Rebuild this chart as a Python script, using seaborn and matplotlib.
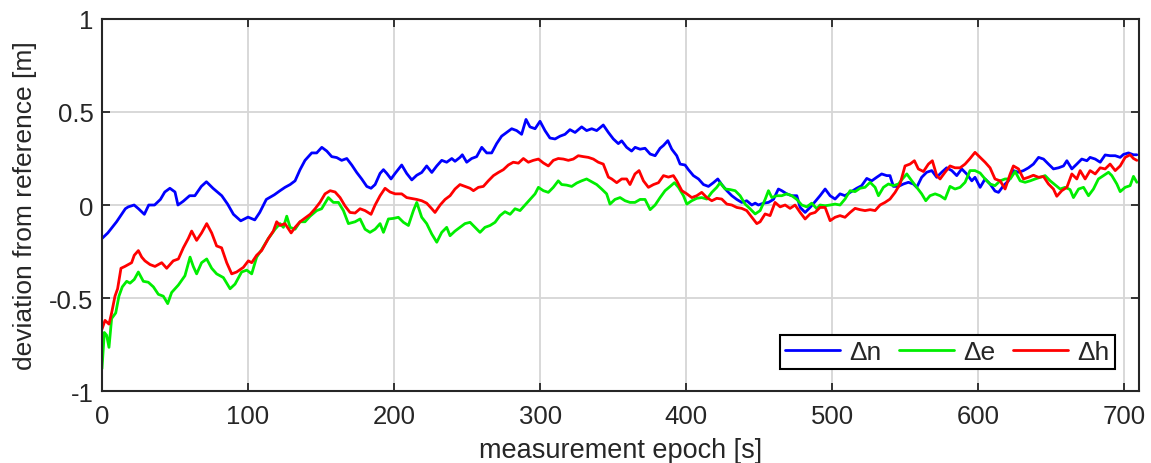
import matplotlib
matplotlib.use("Agg")
import matplotlib.pyplot as plt
import seaborn as sns

# values (epoch in s, deviation in m)
t_n = [0, 4, 10, 16, 18, 22, 25, 29, 32, 36, 40, 43, 46.5, 50, 52, 55.6, 60, 63.6, 68, 71.5,
       76, 82, 86, 90, 95, 100, 104.6, 108, 112.5, 118, 121.9, 125.3, 128.8, 132.2, 135.6, 139,
       143.6, 147, 150.5, 153.9, 157.3, 160.7, 164.1, 167.6, 171, 174.4, 177.8, 181.3, 184.2,
       187, 190.4, 192.7, 195, 197.9, 200.7, 205.2, 208.6, 212.1, 215.5, 218.9, 222.3, 225.8,
       229.2, 232.6, 236, 239.5, 241.7, 245.1, 246.7, 249.7, 253.1, 256.5, 260, 263.4, 266.8,
       270.2, 273.6, 277.1, 280.5, 283.9, 287.3, 290.3, 293, 296.5, 299.9, 303.3, 306.7, 310.2,
       313.6, 317, 320.4, 323.9, 328.4, 331.8, 335.3, 338.7, 343.2, 346.7, 350.1, 353.5, 355.8,
       359.2, 362.6, 365, 368.4, 371.8, 375.3, 378.7, 382.1, 384.4, 387.4, 390.1, 393.5, 395.8,
       399.2, 401.5, 404.9, 408.4, 411.8, 415.2, 418.6, 421.6, 424.3, 427.8, 431.2, 434.6, 438,
       441.4, 444.9, 447.2, 449.4, 452.9, 456.3, 459.7, 463.1, 465.4, 468.8, 472.3, 475.7, 478,
       481.4, 484.8, 488.2, 491.6, 495.1, 498.5, 501.9, 505.3, 508.7, 512.2, 516.7, 520.1, 523.6,
       527, 530.4, 533.8, 537.3, 539.5, 541.8, 545.3, 548.7, 552.1, 555.5, 557.8, 561.2, 564.6,
       568.1, 571.5, 574.9, 578.3, 581.8, 585.2, 588.6, 592, 595.5, 597.7, 601.2, 604.6, 608,
       611.4, 613.8, 617.2, 620.6, 624, 627.5, 630.9, 634.3, 637.7, 641.2, 644.6, 648, 651.4,
       654.9, 658.3, 660.6, 664, 667.4, 670.8, 674.3, 676.5, 680, 683.4, 686.8, 690.2, 693.7,
       697.1, 699.4, 702.8, 706.2, 708.5]
dn = [-0.18, -0.15, -0.09, -0.02, -0.01, 0.0, -0.02, -0.05, 0.0, 0.0, 0.03, 0.07, 0.09, 0.07, 0.0,
      0.02, 0.05, 0.05, 0.10, 0.125, 0.09, 0.05, 0.005, -0.05, -0.085, -0.065, -0.08, -0.04, 0.03,
      0.055, 0.077, 0.095, 0.11, 0.13, 0.19, 0.24, 0.28, 0.28, 0.31, 0.29, 0.26, 0.255, 0.24, 0.25,
      0.215, 0.175, 0.14, 0.10, 0.09, 0.11, 0.17, 0.19, 0.17, 0.14, 0.17, 0.215, 0.17, 0.135, 0.16,
      0.175, 0.21, 0.175, 0.21, 0.24, 0.23, 0.25, 0.235, 0.256, 0.27, 0.23, 0.25, 0.26, 0.31, 0.28,
      0.28, 0.33, 0.37, 0.39, 0.41, 0.40, 0.38, 0.46, 0.42, 0.41, 0.45, 0.40, 0.36, 0.355, 0.37,
      0.38, 0.405, 0.39, 0.42, 0.40, 0.41, 0.40, 0.43, 0.39, 0.355, 0.33, 0.345, 0.31, 0.29, 0.31,
      0.30, 0.305, 0.274, 0.265, 0.305, 0.32, 0.346, 0.30, 0.265, 0.22, 0.215, 0.19, 0.158, 0.14,
      0.11, 0.10, 0.12, 0.14, 0.11, 0.077, 0.05, 0.03, 0.014, 0.023, 0.0, 0.01, 0.0, 0.01, 0.014,
      0.03, 0.086, 0.077, 0.06, 0.05, 0.05, -0.013, -0.04, -0.013, 0.018, 0.05, 0.086, 0.05, 0.032,
      0.06, 0.05, 0.068, 0.09, 0.104, 0.143, 0.13, 0.149, 0.167, 0.158, 0.158, 0.10, 0.10, 0.113,
      0.122, 0.113, 0.095, 0.149, 0.176, 0.185, 0.149, 0.176, 0.20, 0.185, 0.158, 0.194, 0.167,
      0.13, 0.149, 0.095, 0.14, 0.113, 0.075, 0.068, 0.104, 0.13, 0.185, 0.176, 0.185, 0.20, 0.22,
      0.256, 0.247, 0.22, 0.194, 0.20, 0.21, 0.238, 0.194, 0.22, 0.247, 0.238, 0.256, 0.247, 0.23,
      0.269, 0.265, 0.265, 0.256, 0.272, 0.28, 0.27, 0.27]

t_e = [0, 1.6, 3.2, 4.8, 6.6, 9.4, 11.6, 13.9, 16.9, 19.2, 22.1, 24.9, 28.3, 31.7, 35.2, 38.6, 42,
       45, 47.7, 52.3, 56.8, 60.3, 62.5, 64.8, 68.2, 71.7, 75.1, 78.5, 83.1, 87.7, 91.1, 95.6,
       99.1, 102.5, 105.9, 109.3, 113.9, 118.5, 121.9, 124.2, 126.5, 128.8, 132.2, 135.6, 139,
       142.5, 147, 150.4, 155, 158.4, 161.9, 165.3, 168.7, 173.3, 176.7, 180.1, 183.5, 187,
       190.4, 192.7, 196.1, 199.5, 202.9, 206.4, 209.8, 213.2, 215.5, 218.9, 222.3, 225.8,
       229.2, 232.6, 236, 238.3, 241.7, 245.1, 248.5, 252, 255.4, 258.8, 262.2, 265.7, 269.1,
       272.5, 275.9, 279.4, 282.8, 286.2, 289.6, 293, 296.5, 298.8, 302.2, 305.6, 309, 312.4,
       314.7, 318.1, 321.6, 325, 328.4, 331.8, 335.3, 338.7, 342.1, 345.5, 347.8, 351.2, 354.7,
       358.1, 361.5, 364.9, 368.4, 371.8, 375.3, 378.7, 382.1, 385.5, 389, 391.9, 394.7, 398.1,
       400.4, 403.8, 407.2, 410.6, 414.1, 417.5, 420.9, 423.2, 426.6, 430, 433.5, 436.9, 440.3,
       443.7, 447.2, 450.6, 454, 456.3, 458.6, 462, 465.4, 468.8, 472.3, 475.7, 479.1, 482.5,
       485.9, 489.4, 491.6, 495.1, 498.5, 501.9, 505.3, 508.7, 512.2, 515.6, 519, 522.4, 525.9,
       529.3, 531.6, 535, 538.4, 541.8, 545.3, 548, 551, 554.4, 557.8, 561.2, 564, 566.9, 570.4,
       573.8, 577.2, 580.6, 584, 587.5, 590.9, 594.3, 597.7, 601.2, 604.6, 608, 611.4, 614.9,
       618.3, 621.8, 625.2, 628.6, 632, 635.5, 638.9, 642.3, 645.7, 649.2, 652.6, 656, 659.4,
       662.8, 665.1, 668.6, 672, 675.4, 678.8, 682.2, 685.7, 689.1, 691.4, 694.8, 697.1, 700.5,
       703.9, 706.2, 708.5]
de = [-0.88, -0.685, -0.70, -0.765, -0.61, -0.58, -0.49, -0.44, -0.41, -0.42, -0.40, -0.36, -0.41,
      -0.415, -0.44, -0.48, -0.49, -0.53, -0.47, -0.43, -0.38, -0.28, -0.33, -0.37, -0.31, -0.29,
      -0.34, -0.37, -0.39, -0.45, -0.425, -0.36, -0.35, -0.37, -0.28, -0.24, -0.18, -0.13, -0.10,
      -0.12, -0.06, -0.12, -0.13, -0.09, -0.09, -0.06, -0.03, -0.02, 0.04, 0.014, 0.014, -0.03,
      -0.10, -0.09, -0.075, -0.13, -0.147, -0.13, -0.10, -0.147, -0.075, -0.072, -0.066, -0.093,
      -0.11, -0.03, 0.014, -0.066, -0.10, -0.156, -0.20, -0.147, -0.12, -0.165, -0.14, -0.12,
      -0.10, -0.093, -0.12, -0.147, -0.12, -0.11, -0.093, -0.057, -0.036, -0.05, -0.02, -0.03,
      0.0, 0.03, 0.06, 0.095, 0.077, 0.068, 0.095, 0.13, 0.11, 0.107, 0.10, 0.118, 0.13, 0.14,
      0.125, 0.11, 0.086, 0.06, 0.005, 0.03, 0.04, 0.023, 0.014, 0.014, 0.03, 0.03, -0.025, 0.0,
      0.04, 0.077, 0.10, 0.12, 0.095, 0.05, 0.005, 0.023, 0.036, 0.04, 0.032, 0.068, 0.095, 0.12,
      0.086, 0.083, 0.077, 0.05, 0.005, -0.02, -0.048, -0.03, 0.03, 0.077, 0.04, 0.05, 0.05, 0.06,
      0.05, 0.03, 0.0, -0.01, 0.01, -0.02, 0.0, -0.004, 0.0, 0.005, 0.0, 0.032, 0.077, 0.072, 0.09,
      0.095, 0.122, 0.095, 0.05, 0.095, 0.113, 0.104, 0.113, 0.14, 0.167, 0.13, 0.095, 0.06, 0.023,
      0.05, 0.06, 0.05, 0.032, 0.10, 0.086, 0.095, 0.122, 0.185, 0.185, 0.172, 0.14, 0.113, 0.104,
      0.13, 0.14, 0.14, 0.18, 0.13, 0.122, 0.13, 0.14, 0.149, 0.158, 0.13, 0.108, 0.086, 0.095,
      0.083, 0.04, 0.086, 0.095, 0.05, 0.086, 0.14, 0.158, 0.176, 0.158, 0.113, 0.072, 0.095,
      0.104, 0.154, 0.122]

t_h = [0, 2.1, 4.8, 6.6, 8.9, 10.7, 13, 15.7, 18, 20.3, 22.1, 24.9, 27.2, 29.4, 32.9, 36.3, 40.9,
       44.3, 48.8, 52.3, 55.7, 59.1, 61.4, 64.8, 68.2, 71.7, 75.1, 78.5, 81.9, 85.4, 88.8, 92.2,
       96.8, 100.2, 102.5, 105.9, 109.3, 113.9, 117.3, 119.6, 121.9, 125.3, 129.5, 132.2, 135.6,
       139, 142.5, 145.9, 149.3, 152.7, 156.2, 159.6, 163, 166.4, 169.8, 173.3, 176.7, 180.1,
       184.2, 187, 190.4, 193.8, 197.2, 200.7, 205.2, 208.6, 212.1, 215.5, 218.9, 222.3, 225.8,
       228, 231.5, 234.9, 238.3, 241.7, 245.1, 248.5, 252, 254.3, 257.7, 261.1, 264.5, 268,
       271.4, 274.8, 278.2, 281.6, 285.1, 288.5, 291.9, 295.3, 298.8, 302.2, 305.6, 309, 312.4,
       315.9, 319.3, 322.7, 326.1, 329.6, 333, 336.4, 339.8, 343.2, 346.7, 349, 352.4, 355.8,
       359.2, 361.5, 364.9, 367.7, 370.7, 374.1, 377.6, 381, 384.4, 387.8, 391.2, 393.5, 397,
       400.4, 403.8, 407.2, 410.6, 414.1, 417.5, 420.9, 424.3, 427.8, 431.2, 434.6, 438, 441.4,
       444.9, 448.3, 450.6, 454, 457.4, 460.8, 464.3, 467.7, 471.1, 474.5, 478, 481.4, 484.8,
       488.2, 491.6, 495.1, 498.5, 501.9, 505.3, 508.7, 512.2, 515.6, 519, 522.4, 525.9, 529.3,
       532.7, 536.1, 539.5, 543, 546.4, 549.8, 553.2, 556.2, 558.9, 562.4, 565.8, 568.5, 571.5,
       573.8, 577.2, 580.6, 584, 587.5, 590.9, 594.3, 597.7, 601.2, 604.6, 608, 611.4, 614.9,
       618.3, 621.8, 624, 627.5, 630.9, 634.3, 637.7, 641.2, 644.6, 648, 651.4, 653.7, 657.1,
       660.6, 664, 667.4, 669.7, 673.1, 676.5, 680, 683.4, 686.8, 690.2, 693.7, 697.1, 700.5,
       703.9, 706.2, 708.5]
dh = [-0.667, -0.62, -0.64, -0.58, -0.49, -0.45, -0.34, -0.33, -0.32, -0.31, -0.27, -0.245, -0.28,
      -0.30, -0.32, -0.33, -0.31, -0.34, -0.30, -0.29, -0.23, -0.18, -0.14, -0.19, -0.15, -0.10,
      -0.15, -0.22, -0.23, -0.31, -0.37, -0.36, -0.335, -0.30, -0.31, -0.27, -0.245, -0.18, -0.14,
      -0.09, -0.11, -0.10, -0.15, -0.12, -0.09, -0.07, -0.05, -0.02, 0.015, 0.06, 0.077, 0.07,
      0.04, -0.005, -0.04, -0.043, -0.02, -0.03, -0.05, 0.0, 0.05, 0.09, 0.07, 0.06, 0.06, 0.04,
      0.035, 0.03, 0.023, 0.01, -0.02, -0.04, 0.0, 0.03, 0.05, 0.086, 0.11, 0.10, 0.09, 0.077,
      0.095, 0.10, 0.13, 0.158, 0.175, 0.19, 0.215, 0.23, 0.225, 0.25, 0.23, 0.24, 0.247, 0.226,
      0.21, 0.24, 0.25, 0.247, 0.24, 0.247, 0.265, 0.26, 0.256, 0.247, 0.23, 0.22, 0.15, 0.14,
      0.12, 0.14, 0.14, 0.11, 0.167, 0.185, 0.13, 0.095, 0.11, 0.12, 0.158, 0.15, 0.158, 0.13,
      0.077, 0.06, 0.04, 0.05, 0.068, 0.04, 0.023, 0.036, 0.032, 0.005, 0.0, -0.013, -0.018,
      -0.03, -0.066, -0.10, -0.09, -0.048, -0.057, 0.014, -0.01, 0.0, -0.018, 0.0, -0.04, -0.075,
      -0.048, -0.04, -0.013, -0.013, -0.084, -0.066, -0.057, -0.066, -0.04, -0.018, -0.025, -0.03,
      -0.025, -0.03, 0.0, 0.014, 0.032, 0.068, 0.113, 0.21, 0.22, 0.238, 0.194, 0.18, 0.22, 0.238,
      0.158, 0.14, 0.176, 0.21, 0.20, 0.20, 0.22, 0.25, 0.283, 0.256, 0.23, 0.20, 0.14, 0.13,
      0.086, 0.167, 0.21, 0.194, 0.14, 0.149, 0.16, 0.149, 0.153, 0.113, 0.086, 0.047, 0.077,
      0.095, 0.167, 0.14, 0.185, 0.14, 0.185, 0.167, 0.20, 0.194, 0.22, 0.185, 0.21, 0.256, 0.27,
      0.25, 0.24]

sns.set_style("ticks")
plt.rcParams['font.family'] = ['Liberation Sans', 'DejaVu Sans']

fig, ax = plt.subplots(figsize=(11.51, 4.64), dpi=100)
fig.subplots_adjust(left=0.0886, right=0.9896, top=0.957, bottom=0.155)

sns.lineplot(x=t_n, y=dn, ax=ax, color='#0000ff', lw=2, label='Δn')
sns.lineplot(x=t_e, y=de, ax=ax, color='#00ee00', lw=2, label='Δe')
sns.lineplot(x=t_h, y=dh, ax=ax, color='#ff0000', lw=2, label='Δh')

ax.set_xlim(0, 710)
ax.set_ylim(-1, 1)
ax.set_xticks(range(0, 701, 100))
ax.set_yticks([-1, -0.5, 0, 0.5, 1])
ax.set_yticklabels(['-1', '-0.5', '0', '0.5', '1'])
ax.grid(True, color='#d6d6d6', lw=1.3)
ax.set_axisbelow(True)
ax.tick_params(direction='in', length=6, width=1.3, top=True, right=True,
               labelsize=18.5, colors='#262626')
ax.tick_params(axis='x', pad=9)
ax.tick_params(axis='y', pad=6)
for s in ax.spines.values():
    s.set_color('#262626')
    s.set_linewidth(1.5)

ax.set_xlabel('measurement epoch [s]', fontsize=19.5, color='#262626', labelpad=7)
ax.set_ylabel('deviation from reference [m]', fontsize=19, color='#262626', labelpad=9)

leg = ax.legend(ncol=3, loc='lower right', bbox_to_anchor=(0.977, 0.059), frameon=True,
                fancybox=False, edgecolor='black', framealpha=1, fontsize=19,
                handlelength=2.1, columnspacing=0.65, handletextpad=0.35, borderpad=0.2,
                borderaxespad=0)
leg.get_frame().set_linewidth(1.5)

fig.savefig('out.png')
